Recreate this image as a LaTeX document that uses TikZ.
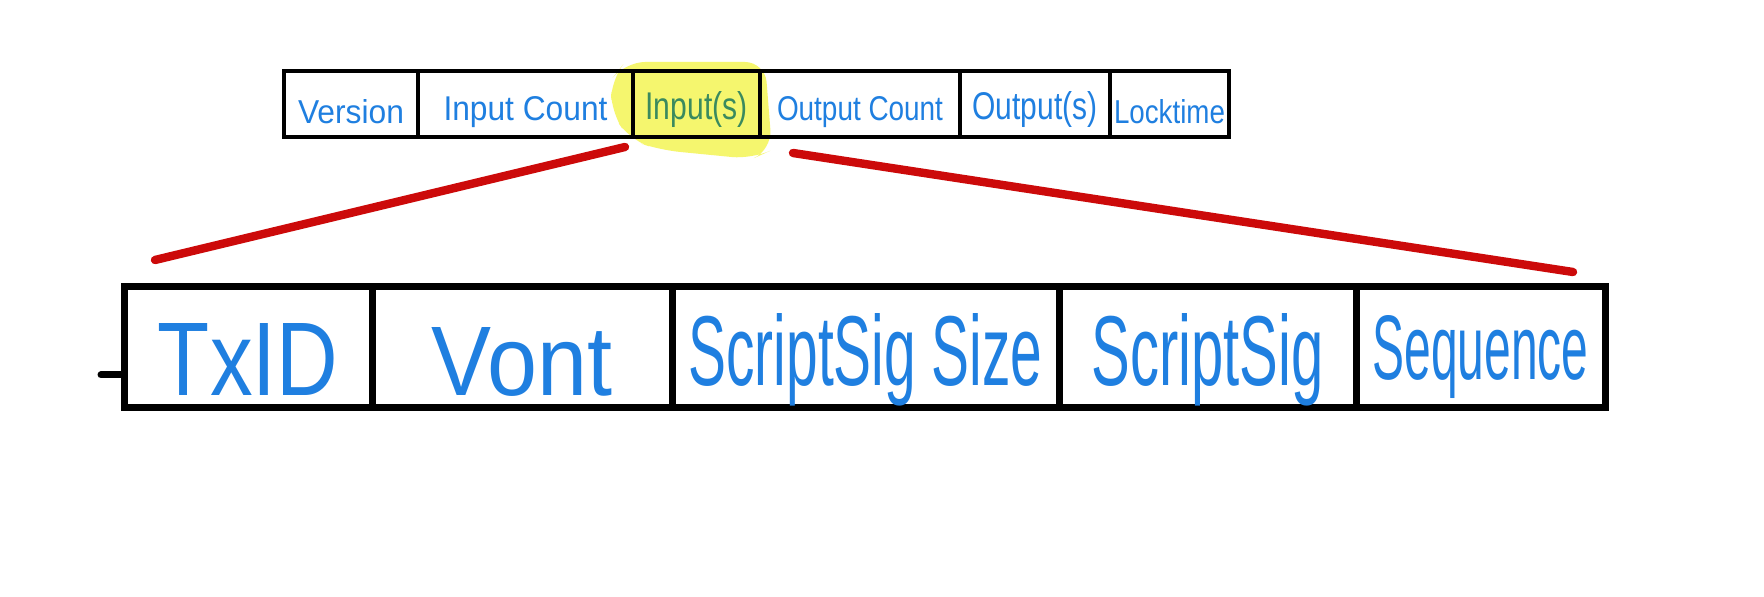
\documentclass[tikz,border=0pt]{standalone}
\usepackage{fontspec}
\setmainfont{Liberation Sans}
\usepackage{graphicx}
\definecolor{inkblue}{HTML}{1F7FE0}
\definecolor{inkgreen}{HTML}{3A8A5E}
\definecolor{inkred}{HTML}{CC0A0A}
\definecolor{hiyellow}{HTML}{F5F66E}
\newcommand{\hw}[4]{\raisebox{-#4pt}[\height][\depth]{\resizebox{#1pt}{#2pt}{#3}}}
\begin{document}
\begin{tikzpicture}[x=0.5pt,y=-0.5pt,
  topcell/.style={draw=black, line width=1.8pt, rectangle, inner sep=0pt, minimum height=33pt, text=inkblue},
  botcell/.style={draw=black, line width=3.5pt, rectangle, inner sep=0pt, minimum height=60.5pt, text=inkblue},
  link/.style={draw=inkred, line width=4.2pt, line cap=round}]
\useasboundingbox (0,0) rectangle (1764,597);
\fill[white] (0,0) rectangle (1764,597);
% highlight
\fill[hiyellow, rounded corners=10pt] (625,62) -- (765,62) -- (772,150) -- (752,159) -- (660,150) -- (630,140) -- (611,112) -- (611,80) -- cycle;
% top row
\node[topcell, minimum width=67pt]   (version) at (351,104)   {\hw{53}{12}{Version}{4}};
\node[topcell, minimum width=107.5pt] (incount) at (525.5,104) {\hw{82}{12}{Input Count}{4}};
\node[topcell, minimum width=63.5pt, text=inkgreen] (inputs) at (696.5,104) {\hw{51}{14}{Input(s)}{3}};
\node[topcell, minimum width=100pt]  (outcount) at (860,104)  {\hw{83}{12}{Output Count}{4}};
\node[topcell, minimum width=75pt]   (outputs) at (1035,104)  {\hw{62.5}{14}{Output(s)}{3}};
\node[topcell, minimum width=59.5pt] (locktime) at (1169.5,104) {\hw{55.5}{12}{Locktime}{4}};
% bottom row
\node[botcell, minimum width=124pt]   (txid) at (248,347.5)   {\hw{90}{36}{TxID}{6}};
\node[botcell, minimum width=150pt]   (vout) at (522,347.5)   {\hw{90}{34}{Vont}{7}};
\node[botcell, minimum width=193.5pt] (sss)  at (865.5,347.5) {\hw{177}{36}{ScriptSig Size}{6}};
\node[botcell, minimum width=148.5pt] (ss)   at (1207.5,347.5) {\hw{116}{36}{ScriptSig}{6}};
\node[botcell, minimum width=124.5pt] (seq)  at (1480.5,347.5) {\hw{108}{32}{Sequence}{5}};
% left tick
\coordinate (tick) at (101,375);
\draw[line width=3.5pt, line cap=round] (tick) -- (tick -| txid.west);
% red expansion lines
\coordinate (r1a) at (625,147);
\coordinate (r1b) at (155,260);
\coordinate (r2a) at (793,153);
\coordinate (r2b) at (1573,272);
\draw[link] (r1a) -- (r1b);
\draw[link] (r2a) -- (r2b);
\end{tikzpicture}
\end{document}
